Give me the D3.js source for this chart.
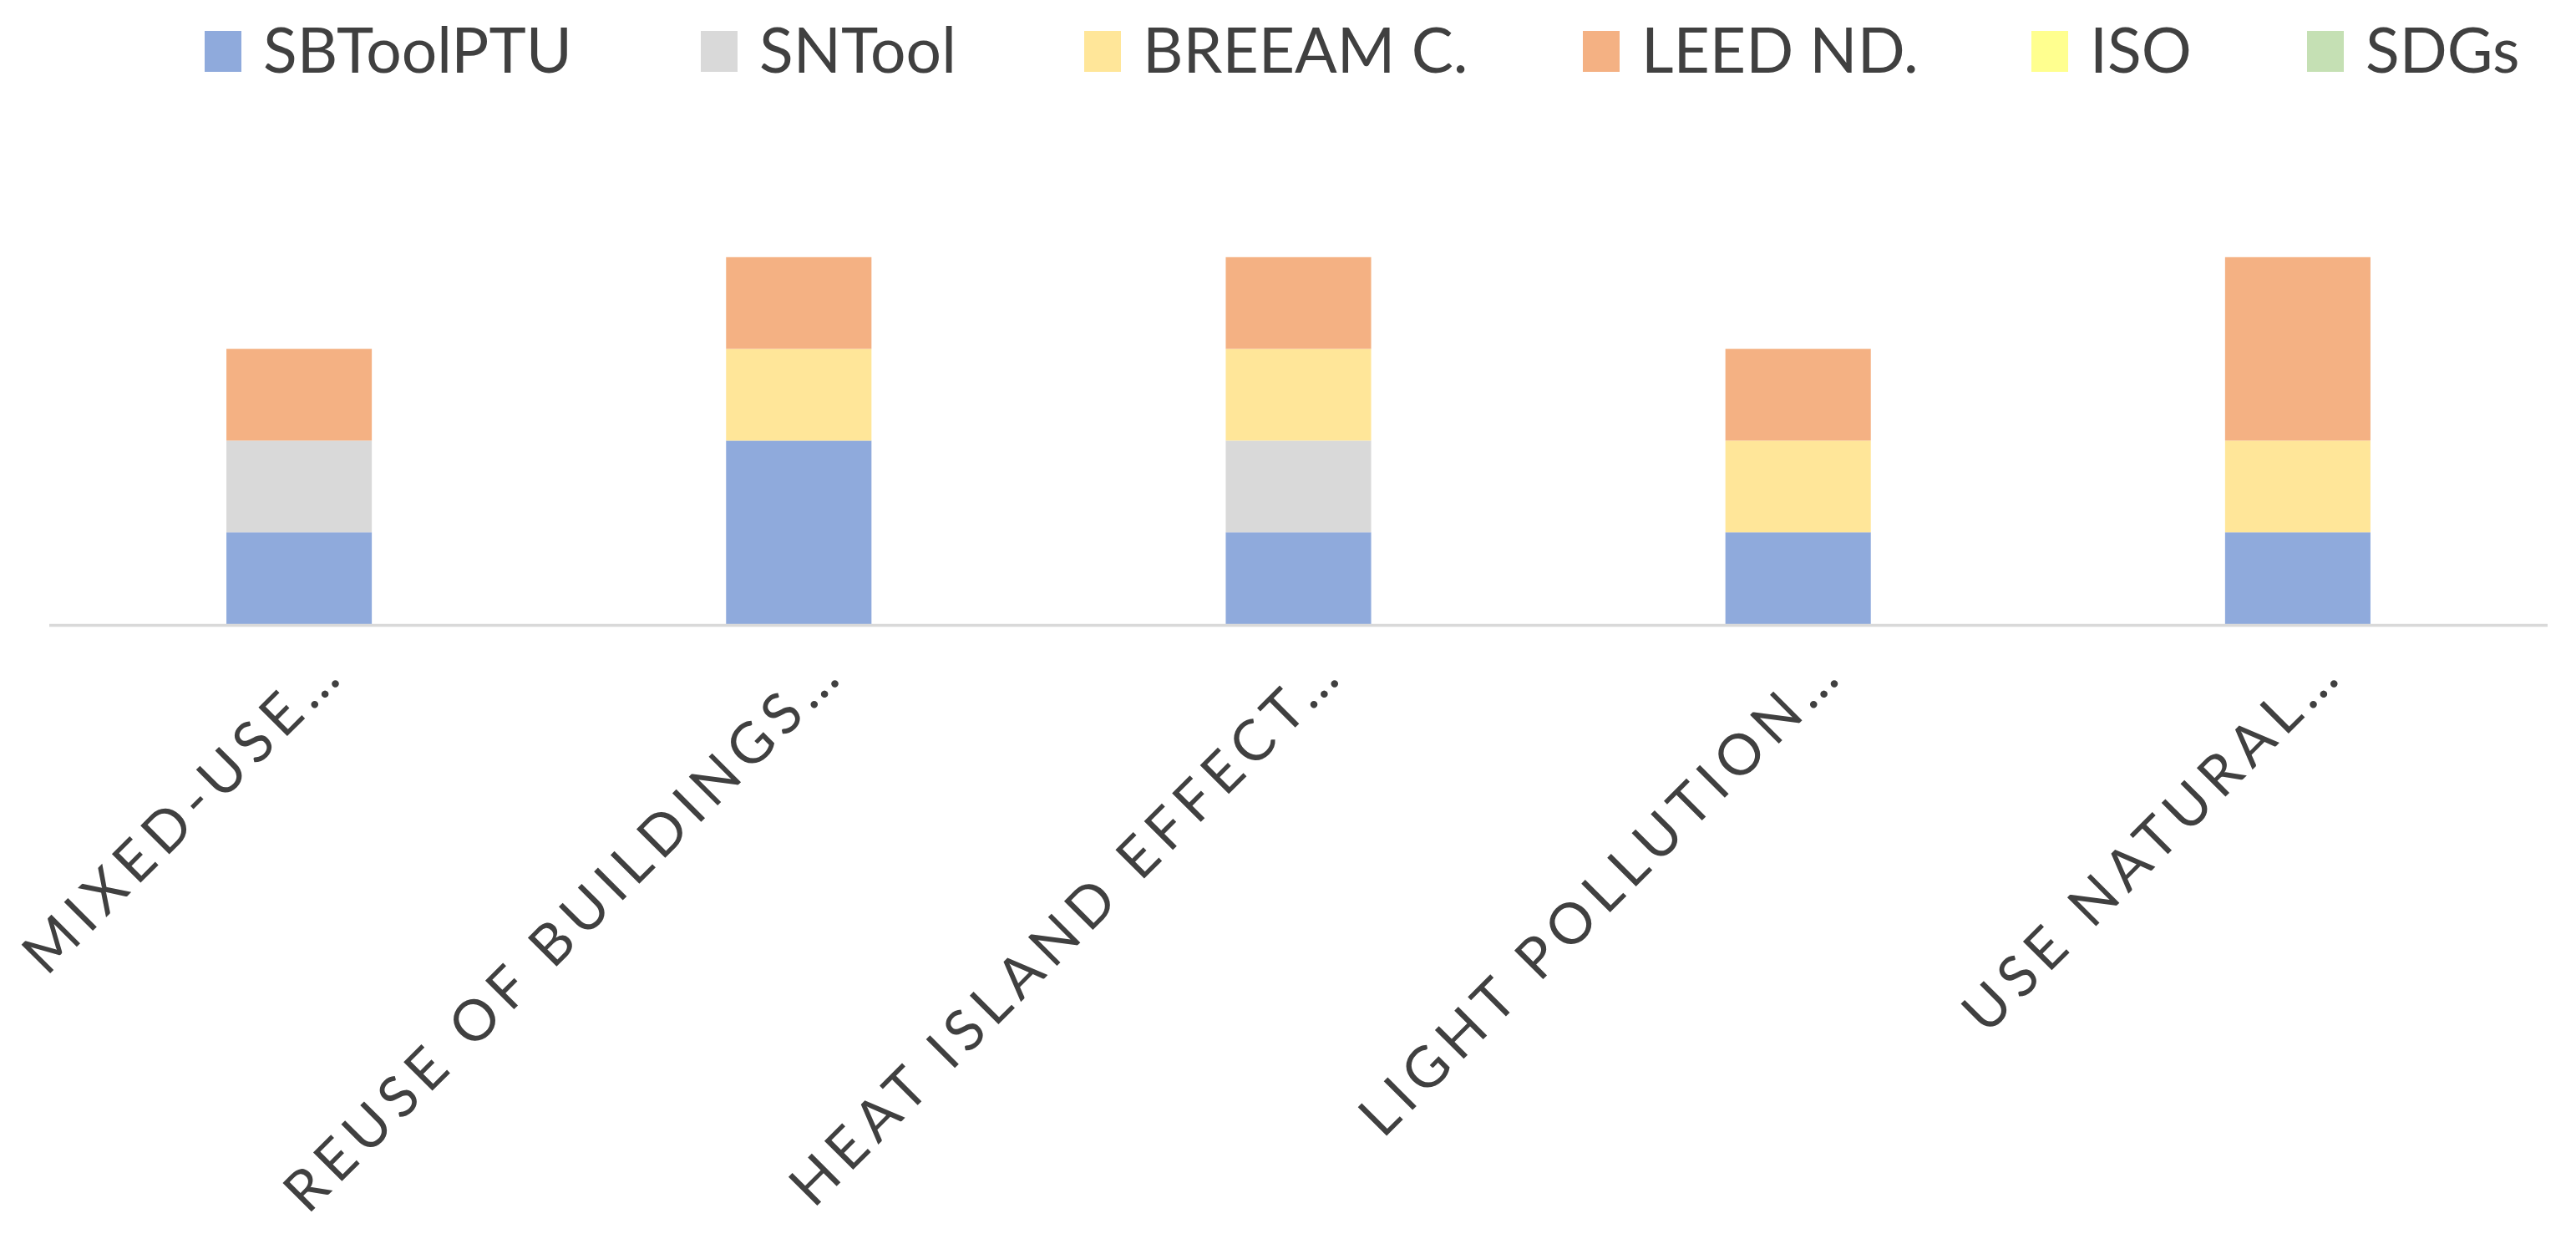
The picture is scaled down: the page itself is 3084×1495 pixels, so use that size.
<!DOCTYPE html>
<html>
<head>
<meta charset="utf-8">
<script src="https://cdn.jsdelivr.net/npm/d3@7"></script>
<style>
  html, body { margin: 0; padding: 0; background: #ffffff; }
  svg { display: block; }
</style>
</head>
<body>
<div id="chart"></div>
<script>
// data (one unit per criterion)
var categories = ["MIXED-USE…", "REUSE OF BUILDINGS…", "HEAT ISLAND EFFECT…", "LIGHT POLLUTION…", "USE NATURAL…"];
var seriesNames = ["SBToolPTU", "SNTool", "BREEAM C.", "LEED ND.", "ISO", "SDGs"];
var sbtoolptu = [1, 2, 1, 1, 1];
var sntool    = [1, 0, 1, 0, 0];
var breeam    = [0, 1, 1, 1, 1];
var leed      = [1, 1, 1, 1, 2];
var iso       = [0, 0, 0, 0, 0];
var sdgs      = [0, 0, 0, 0, 0];
var yTicks    = [0, 1, 2, 3, 4, 5];

var colors = ["#8faadc", "#d9d9d9", "#ffe699", "#f4b183", "#ffff8f", "#c5e0b4"];

///////////////////////////////////////////////////////////////////////////
// SVG
///////////////////////////////////////////////////////////////////////////
var W = 3084, H = 1495;
var margin = { top: 198, right: 34, bottom: 748, left: 59 };

var svg = d3.select("#chart")
  .append("svg")
  .attr("width", W)
  .attr("height", H)
  .style("background-color", "#ffffff");

var allSeries = [sbtoolptu, sntool, breeam, leed, iso, sdgs];
var rows = categories.map(function (c, i) {
  var r = { cat: c };
  seriesNames.forEach(function (s, j) { r[s] = allSeries[j][i]; });
  return r;
});

var stacked = d3.stack().keys(seriesNames)(rows);

var x = d3.scaleBand()
  .domain(categories)
  .range([margin.left, W - margin.right])
  .paddingInner(0.709)
  .paddingOuter(0.709 / 2);

var y = d3.scaleLinear()
  .domain([0, d3.max(yTicks)])
  .range([H - margin.bottom, margin.top]);

var color = d3.scaleOrdinal().domain(seriesNames).range(colors);

// bars
svg.append("g")
  .selectAll("g")
  .data(stacked)
  .join("g")
  .attr("fill", function (d) { return color(d.key); })
  .selectAll("rect")
  .data(function (d) { return d; })
  .join("rect")
  .attr("x", function (d) { return x(d.data.cat); })
  .attr("y", function (d) { return y(d[1]); })
  .attr("width", x.bandwidth())
  .attr("height", function (d) { return y(d[0]) - y(d[1]); });

// category axis line
svg.append("line")
  .attr("x1", margin.left)
  .attr("x2", W - margin.right)
  .attr("y1", y(0) + 1.5)
  .attr("y2", y(0) + 1.5)
  .attr("stroke", "#d9d9d9")
  .attr("stroke-width", 3.5);

// rotated category labels
svg.append("g")
  .selectAll("text")
  .data(categories)
  .join("text")
  .attr("transform", function (d) {
    return "translate(" + (x(d) + x.bandwidth() / 2 + 58) + "," + (y(0) + 62) + ") rotate(-45)";
  })
  .attr("text-anchor", "end")
  .attr("font-family", "Lato, 'Open Sans', sans-serif")
  .attr("font-size", "68px")
  .attr("letter-spacing", "9px")
  .attr("fill", "#404040")
  .text(function (d) { return d; });

///////////////////////////////////////////////////////////////////////////
// Legend (item positions taken from the reference layout)
///////////////////////////////////////////////////////////////////////////
var legendX = [245, 839, 1298, 1895, 2432, 2762];

var legend = svg.append("g")
  .attr("class", "legend")
  .selectAll("g")
  .data(seriesNames)
  .join("g")
  .attr("transform", function (d, i) { return "translate(" + legendX[i] + ",0)"; });

legend.append("rect")
  .attr("x", 0)
  .attr("y", 37)
  .attr("width", 44)
  .attr("height", 49)
  .attr("fill", function (d) { return color(d); });

legend.append("text")
  .attr("x", 70)
  .attr("y", 87)
  .attr("font-family", "Lato, 'Open Sans', sans-serif")
  .attr("font-size", "75px")
  .attr("fill", "#404040")
  .text(function (d) { return d; });
</script>
</body>
</html>
